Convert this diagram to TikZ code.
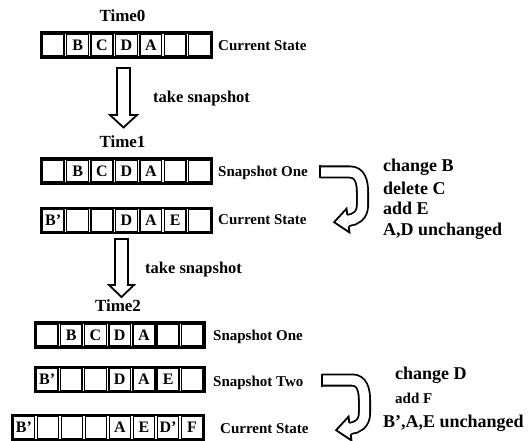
\documentclass[tikz,border=0pt]{standalone}
\usepackage{fontspec}
\setmainfont{Liberation Serif}
\usetikzlibrary{fit}
\tikzset{
  cell/.style={draw, line width=1.5pt, minimum width=21.8pt, minimum height=22.4pt,
    inner sep=0pt, outer sep=0pt, font=\bfseries\fontsize{16}{16}\selectfont},
  rowbox/.style={draw, line width=2.2pt, inner sep=1.3pt},
  lbl/.style={anchor=base west, inner sep=0pt, font=\bfseries\fontsize{15}{15}\selectfont},
  tlbl/.style={anchor=base, inner sep=0pt, font=\bfseries\fontsize{17}{17}\selectfont},
  snap/.style={anchor=base west, inner sep=0pt, font=\bfseries\fontsize{16.5}{16.5}\selectfont},
  note/.style={anchor=base west, inner sep=0pt, font=\bfseries\fontsize{18}{18}\selectfont},
  notesmall/.style={anchor=base west, inner sep=0pt, font=\bfseries\fontsize{15}{15}\selectfont},
  hollow/.style={draw, line width=1.8pt, fill=white, line join=miter},
  bendarrow/.pic={
    \draw[line width=1.8pt, double=white, double distance=9.4pt]
      (0,0) -- (30,0) .. controls (40,0) and (42.5,10) .. (42.5,20)
      -- (42.5,33) .. controls (42.5,44) and (35,47.6) .. (28,48.5);
    \draw[line width=1.8pt] (0,-6.5) -- (0,6.5);
    \fill[white] (27.3,42.8) -- (26.56,36.62) -- (14.1,50.2) -- (29.44,60.38) -- (28.7,54.2) -- cycle;
    \draw[line width=1.8pt, line join=miter] (27.3,42.8) -- (26.56,36.62) -- (14.1,50.2) -- (29.44,60.38) -- (28.7,54.2);
  }
}
\begin{document}
\begin{tikzpicture}[x=1pt, y=-1pt]
\useasboundingbox (0,0) rectangle (531,441);

% Time0
\node[tlbl] (t0) at (122.5,21.5) {Time0};
\foreach \t [count=\i] in {{},B,C,D,A,{},{}}
  \node[cell] (r1c\i) at ({41+(\i-0.5)*24.4},45) {\t};
\node[rowbox, fit=(r1c1)(r1c7)] (row1) {};
\node[lbl] (l1) at (218,51) {Current State};

% arrow 1
\draw[hollow] (117,68) -- (130,68) -- (130,115) -- (137,115) -- (123.5,127.5)
  -- (110,115) -- (117,115) -- cycle;
\node[snap] (ts1) at (153,103) {take snapshot};

% Time1
\node[tlbl] (t1) at (122.5,148) {Time1};
\foreach \t [count=\i] in {{},B,C,D,A,{},{}}
  \node[cell] (r2c\i) at ({41+(\i-0.5)*24.4},171) {\t};
\node[rowbox, fit=(r2c1)(r2c7)] (row2) {};
\node[lbl] (l2) at (218,177) {Snapshot One};

\foreach \t [count=\i] in {B',{},{},D,A,E,{}}
  \node[cell] (r3c\i) at ({41+(\i-0.5)*24.4},220.5) {\t};
\node[rowbox, fit=(r3c1)(r3c7)] (row3) {};
\node[lbl] (l3) at (218,224.5) {Current State};

\pic (ca1) at (320,172) {bendarrow};
\node[note] (n1) at (383,172) {change B};
\node[note] (n2) at (383,194.5) {delete C};
\node[note] (n3) at (383,215) {add E};
\node[note] (n4) at (383,235.5) {A,D unchanged};

% arrow 2
\draw[hollow] (115,239) -- (128,239) -- (128,285) -- (134,285) -- (121.5,297)
  -- (109,285) -- (115,285) -- cycle;
\node[snap] (ts2) at (145,274) {take snapshot};

% Time2
\node[tlbl] (t2) at (118,312) {Time2};
\foreach \t [count=\i] in {{},B,C,D,A,{},{}}
  \node[cell] (r4c\i) at ({35+(\i-0.5)*24.2},335) {\t};
\node[rowbox, fit=(r4c1)(r4c7)] (row4) {};
\node[lbl] (l4) at (213,341) {Snapshot One};

\foreach \t [count=\i] in {B',{},{},D,A,E,{}}
  \node[cell] (r5c\i) at ({35+(\i-0.5)*24.2},379.5) {\t};
\node[rowbox, fit=(r5c1)(r5c7)] (row5) {};
\node[lbl] (l5) at (213,386) {Snapshot Two};

\foreach \t [count=\i] in {B',{},{},{},A,E,D',F}
  \node[cell, minimum width=21.4pt] (r6c\i) at ({12+(\i-0.5)*24},427.5) {\t};
\node[rowbox, fit=(r6c1)(r6c8)] (row6) {};
\node[lbl] (l6) at (220,433.5) {Current State};

\pic (ca2) at (322,380) {bendarrow};
\node[note] (m1) at (395,380) {change D};
\node[notesmall] (m2) at (395,403) {add F};
\node[note] (m3) at (383,428) {B',A,E unchanged};
\end{tikzpicture}
\end{document}
